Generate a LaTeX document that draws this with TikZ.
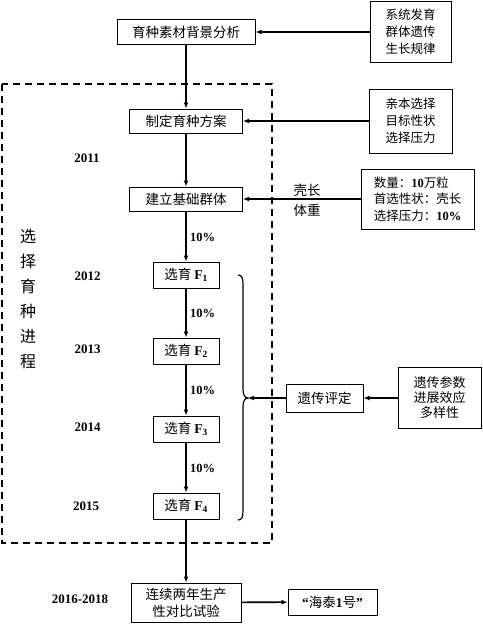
\documentclass[tikz,border=0pt]{standalone}
\usepackage{fontspec}
\setmainfont{Liberation Serif}
\newfontfamily\cjk{Noto Sans CJK SC}
\usetikzlibrary{arrows.meta}
\newcommand\dg[1]{{\rmfamily\bfseries #1}}
\begin{document}
\begin{tikzpicture}[x=1pt,y=-1pt,
  box/.style={draw,line width=1pt,inner sep=0pt,align=center,font=\cjk\fontsize{13.5}{17}\selectfont},
  side/.style={draw,line width=1pt,inner sep=0pt,align=center,font=\cjk\fontsize{12.5}{17}\selectfont},
  plain/.style={inner sep=0pt,font=\cjk\fontsize{13.5}{17}\selectfont},
  yr/.style={inner sep=0pt,font=\rmfamily\bfseries\fontsize{13}{15}\selectfont},
  pct/.style={inner sep=0pt,anchor=west,font=\rmfamily\bfseries\fontsize{12.5}{15}\selectfont},
  arr/.style={line width=1.6pt,-{Latex[length=6pt,width=5pt]}},
  dashbox/.style={line width=1.5pt,dash pattern=on 7pt off 5pt},
  bracestyle/.style={line width=1.2pt}
]
\useasboundingbox (0,0) rectangle (482,626);

% dashed frame
\draw[dashbox] (2,84) rectangle (272,543);

% main column
\node[box,minimum width=138pt,minimum height=25pt] (b1) at (186,32) {育种素材背景分析};
\node[box,minimum width=113pt,minimum height=24pt] (b2) at (186,121) {制定育种方案};
\node[box,minimum width=113pt,minimum height=24pt] (b3) at (186,199) {建立基础群体};
\node[box,minimum width=66pt,minimum height=26pt] (f1) at (186,275) {选育 \dg{F}\textsubscript{\dg{1}}};
\node[box,minimum width=66pt,minimum height=26pt] (f2) at (186,351) {选育 \dg{F}\textsubscript{\dg{2}}};
\node[box,minimum width=66pt,minimum height=26pt] (f3) at (186,429) {选育 \dg{F}\textsubscript{\dg{3}}};
\node[box,minimum width=66pt,minimum height=26pt] (f4) at (186,506) {选育 \dg{F}\textsubscript{\dg{4}}};
\node[box,minimum width=110pt,minimum height=39pt] (fin) at (186,602.5) {连续两年生产\\性对比试验};
\node[box,minimum width=89pt,minimum height=26pt] (ht) at (332.5,602) {\dg{“}海泰\dg{1}号\dg{”}};

% right column
\node[side,minimum width=81pt,minimum height=61pt] (r1) at (410.5,32) {系统发育\\群体遗传\\生长规律};
\node[side,minimum width=83pt,minimum height=64pt] (r2) at (410.5,121) {亲本选择\\目标性状\\选择压力};
\node[side,align=left,minimum width=113pt,minimum height=60pt,font=\cjk\fontsize{12.5}{16.5}\selectfont] (r3) at (417.5,199) {数量：\dg{10}万粒\\首选性状：壳长\\选择压力：\dg{10\%}};
\node[box,minimum width=77pt,minimum height=28pt] (pd) at (324.5,398) {遗传评定};
\node[side,minimum width=83pt,minimum height=61pt,font=\cjk\fontsize{13}{15}\selectfont] (r4) at (439.5,398) {遗传参数\\进展效应\\多样性};

% labels
\node[plain] (ck) at (307,190) {壳长};
\node[plain] (tz) at (307,210) {体重};
\node[yr] (y11) at (87,158) {2011};
\node[yr] (y12) at (87.5,276) {2012};
\node[yr] (y13) at (87.5,349) {2013};
\node[yr] (y14) at (87.5,427) {2014};
\node[yr] (y15) at (86,506) {2015};
\node[yr] (y16) at (80,599) {2016-2018};
\node[pct] (p0) at (190,237) {10\%};
\node[pct] (p1) at (190,313) {10\%};
\node[pct] (p2) at (190,390) {10\%};
\node[pct] (p3) at (190,468) {10\%};
\node[inner sep=0pt,align=center,font=\cjk\fontsize{16}{25}\selectfont] (vt) at (28,299) {选\\择\\育\\种\\进\\程};

% brace
\coordinate (bt) at (248,398);
\draw[bracestyle] (238,275) .. controls (242,275) and (243,278) .. (243,285)
  -- (243,389) .. controls (243,395) and (245,398) .. (bt)
  .. controls (245,398) and (243,401) .. (243,407)
  -- (243,510) .. controls (243,517) and (242,520) .. (238,520);

% arrows
\draw[arr] (b1) -- (b2);
\draw[arr] (b2) -- (b3);
\draw[arr] (b3) -- (f1);
\draw[arr] (f1) -- (f2);
\draw[arr] (f2) -- (f3);
\draw[arr] (f3) -- (f4);
\draw[arr] (f4) -- (f4 |- fin.north);
\draw[arr] (fin) -- (ht);
\draw[arr] (r1) -- (b1);
\draw[arr] (r2) -- (b2);
\draw[arr] (r3) -- (b3);
\draw[arr] (r4) -- (pd);
\draw[arr] (pd) -- (bt);
\end{tikzpicture}
\end{document}
